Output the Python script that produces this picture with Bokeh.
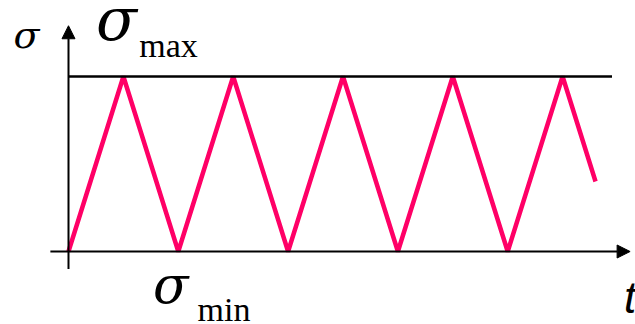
from bokeh.plotting import figure
from bokeh.models import Arrow, NormalHead, Label, Range1d
from bokeh.embed import file_html
from bokeh.resources import INLINE

# Triangular cyclic stress history: time (in cycles) and normalised stress
t_vals = [0, 0.5, 1.0, 1.5, 2.0, 2.5, 3.0, 3.5, 4.0, 4.5, 4.8]
sigma_vals = [0, 1, 0, 1, 0, 1, 0, 1, 0, 1, 0.4]

sigma_max = 1.0
sigma_min = 0.0
max_line_t = [0, 4.95]

p = figure(width=635, height=324, output_backend="svg", toolbar_location=None,
           x_range=Range1d(-0.6193, 5.164), y_range=Range1d(-0.4171, 1.4343),
           min_border=0, outline_line_color=None)
p.axis.visible = False
p.grid.visible = False
p.background_fill_color = "white"
p.border_fill_color = "white"

# stress signal
p.line(t_vals, sigma_vals, line_color="#FF0066", line_width=4.5)

# sigma_max reference level
p.line(max_line_t, [sigma_max, sigma_max], line_color="black", line_width=2.5)

# coordinate axes with arrow heads
p.add_layout(Arrow(end=NormalHead(size=13, fill_color="black", line_color="black"),
                   x_start=-0.165, y_start=sigma_min, x_end=5.115, y_end=sigma_min,
                   line_color="black", line_width=2))
p.add_layout(Arrow(end=NormalHead(size=13, fill_color="black", line_color="black"),
                   x_start=0, y_start=-0.10, x_end=0, y_end=1.29,
                   line_color="black", line_width=2))

serif = "'Liberation Serif', 'Times New Roman', serif"
greek = "'DejaVu Serif', serif"
sans = "'Liberation Sans', Arial, sans-serif"


def add_text(x, y, text, size, font=serif, style="normal"):
    p.add_layout(Label(x=x, y=y, text=text, text_font=font, text_font_style=style,
                       text_font_size=size, text_color="black",
                       text_baseline="bottom"))


add_text(-0.50, 1.111, "σ", "38px", font=greek, style="italic")
add_text(0.25, 1.127, "σ", "60px", font=greek, style="italic")
add_text(0.645, 1.0726, "max", "34px")
add_text(0.77, -0.365, "σ", "52px", font=greek, style="italic")
add_text(1.175, -0.436, "min", "34px")
add_text(5.06, -0.402, "t", "44px", font=sans, style="italic")

open("out.html", "w").write(file_html(p, INLINE))
